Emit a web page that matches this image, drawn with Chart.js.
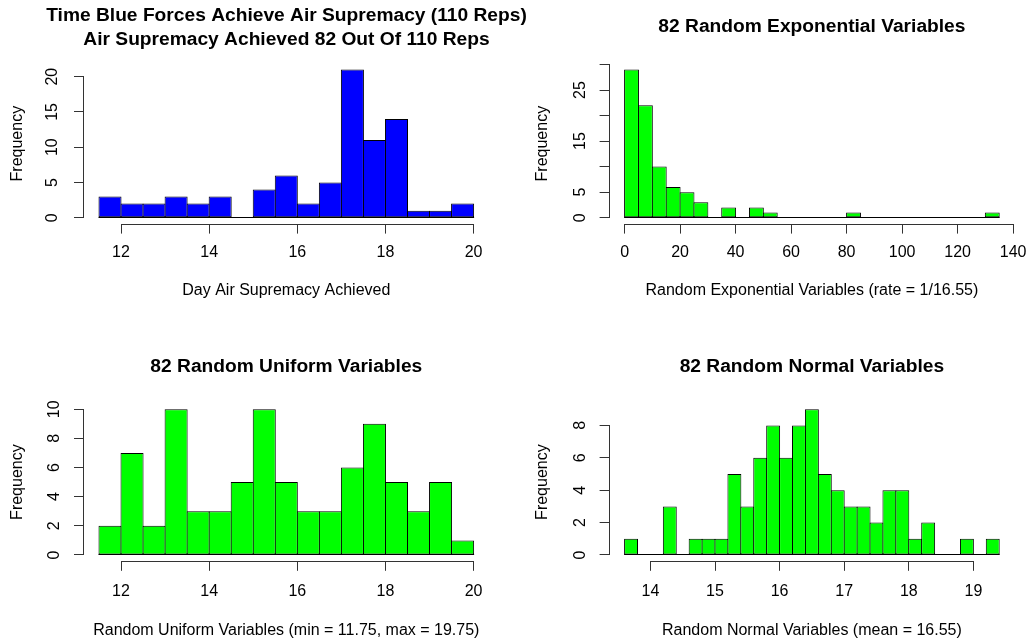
<!DOCTYPE html>
<html><head><meta charset="utf-8"><title>Histograms</title>
<script src="https://cdn.jsdelivr.net/npm/chart.js@4.4.1/dist/chart.umd.min.js"></script>
<style>
html,body{margin:0;padding:0;background:#fff}
body{position:relative;width:1026px;height:643px;overflow:hidden}
canvas{position:absolute}
</style></head><body>
<canvas id="c1" width="573" height="321" style="left:0;top:0"></canvas>
<canvas id="c2" width="513" height="321" style="left:513px;top:0"></canvas>
<canvas id="c3" width="513" height="322" style="left:0;top:321px"></canvas>
<canvas id="c4" width="513" height="322" style="left:513px;top:321px"></canvas>
<script>
// ---------------- DATA ----------------
const p1Title = ['Time Blue Forces Achieve Air Supremacy (110 Reps)', 'Air Supremacy Achieved 82 Out Of 110 Reps'];
const p1XLabel = 'Day Air Supremacy Achieved';
const p1Breaks = [11.5, 12, 12.5, 13, 13.5, 14, 14.5, 15, 15.5, 16, 16.5, 17, 17.5, 18, 18.5, 19, 19.5, 20];
const p1Counts = [3, 2, 2, 3, 2, 3, 0, 4, 6, 2, 5, 21, 11, 14, 1, 1, 2];
const p1XTicks = [12, 14, 16, 18, 20];
const p1YTicks = [0, 5, 10, 15, 20];
const p1YTickLabels = ['0', '5', '10', '15', '20'];

const p2Title = ['82 Random Exponential Variables'];
const p2XLabel = 'Random Exponential Variables (rate = 1/16.55)';
const p2Breaks = [0, 5, 10, 15, 20, 25, 30, 35, 40, 45, 50, 55, 60, 65, 70, 75, 80, 85, 90, 95, 100, 105, 110, 115, 120, 125, 130, 135];
const p2Counts = [29, 22, 10, 6, 5, 3, 0, 2, 0, 2, 1, 0, 0, 0, 0, 0, 1, 0, 0, 0, 0, 0, 0, 0, 0, 0, 1];
const p2XTicks = [0, 20, 40, 60, 80, 100, 120, 140];
const p2YTicks = [0, 5, 10, 15, 20, 25, 30];
const p2YTickLabels = ['0', '5', '', '15', '', '25', ''];

const p3Title = ['82 Random Uniform Variables'];
const p3XLabel = 'Random Uniform Variables (min = 11.75, max = 19.75)';
const p3Breaks = [11.5, 12, 12.5, 13, 13.5, 14, 14.5, 15, 15.5, 16, 16.5, 17, 17.5, 18, 18.5, 19, 19.5, 20];
const p3Counts = [2, 7, 2, 10, 3, 3, 5, 10, 5, 3, 3, 6, 9, 5, 3, 5, 1];
const p3XTicks = [12, 14, 16, 18, 20];
const p3YTicks = [0, 2, 4, 6, 8, 10];
const p3YTickLabels = ['0', '2', '4', '6', '8', '10'];

const p4Title = ['82 Random Normal Variables'];
const p4XLabel = 'Random Normal Variables (mean = 16.55)';
const p4Breaks = [13.6, 13.8, 14.0, 14.2, 14.4, 14.6, 14.8, 15.0, 15.2, 15.4, 15.6, 15.8, 16.0, 16.2, 16.4, 16.6, 16.8, 17.0, 17.2, 17.4, 17.6, 17.8, 18.0, 18.2, 18.4, 18.6, 18.8, 19.0, 19.2, 19.4];
const p4Counts = [1, 0, 0, 3, 0, 1, 1, 1, 5, 3, 6, 8, 6, 8, 9, 5, 4, 3, 3, 2, 4, 4, 1, 2, 0, 0, 1, 0, 1];
const p4XTicks = [14, 15, 16, 17, 18, 19];
const p4YTicks = [0, 2, 4, 6, 8];
const p4YTickLabels = ['0', '2', '4', '6', '8'];

const yAxisLabel = 'Frequency';

// ---------------- STYLE / LAYOUT ----------------
const FONT = '"Liberation Sans", Arial, Helvetica, sans-serif';
const TEXT = '#000000';
const AXIS = '#333333';
const TL = 10;            // tick length
const FS = 16;            // axis text size
const TFS = 19.2;         // title size
const TLH = 1.25;         // title line height

const panels = [
  { id: 'c1', title: p1Title, xLabel: p1XLabel, breaks: p1Breaks, counts: p1Counts, xTicks: p1XTicks, yTicks: p1YTicks, yTickLabels: p1YTickLabels, fill: '#0000FF', titleFull: true,
    box: { cx: 0, cy: 0, cw: 573, ch: 321, L: 84, R: 488.6, T: 63.7, B: 223.6, titleY: 15.5, xTickY: 252.8, xTitleY: 290.7, yTickX: 53, yTitleX: 17.3 } },
  { id: 'c2', title: p2Title, xLabel: p2XLabel, breaks: p2Breaks, counts: p2Counts, xTicks: p2XTicks, yTicks: p2YTicks, yTickLabels: p2YTickLabels, fill: '#00FF00', titleFull: false,
    box: { cx: 513, cy: 0, cw: 513, ch: 321, L: 609.6, R: 1014.2, T: 63.7, B: 223.6, titleY: 27, xTickY: 252.8, xTitleY: 290.7, yTickX: 580.3, yTitleX: 542.5 } },
  { id: 'c3', title: p3Title, xLabel: p3XLabel, breaks: p3Breaks, counts: p3Counts, xTicks: p3XTicks, yTicks: p3YTicks, yTickLabels: p3YTickLabels, fill: '#00FF00', titleFull: false,
    box: { cx: 0, cy: 321, cw: 513, ch: 322, L: 84, R: 488.6, T: 403.4, B: 560.8, titleY: 366.4, xTickY: 591.2, xTitleY: 630.7, yTickX: 54.5, yTitleX: 17.3 } },
  { id: 'c4', title: p4Title, xLabel: p4XLabel, breaks: p4Breaks, counts: p4Counts, xTicks: p4XTicks, yTicks: p4YTicks, yTickLabels: p4YTickLabels, fill: '#00FF00', titleFull: false,
    box: { cx: 513, cy: 321, cw: 513, ch: 322, L: 609.6, R: 1014.2, T: 403.4, B: 560.8, titleY: 366.4, xTickY: 591.2, xTitleY: 630.7, yTickX: 580.8, yTitleX: 542.5 } }
];

function alignPx(v) { return Math.round(v - 0.5) + 0.5; }

function makeChart(p) {
  const b = p.box;
  const canvas = document.getElementById(p.id);
  const mctx = canvas.getContext('2d');
  mctx.font = 'normal ' + FS + 'px ' + FONT;
  let widest = 0;
  p.yTickLabels.forEach(s => { widest = Math.max(widest, mctx.measureText(s).width); });

  const lhTick = FS * 1.2;
  const yAxisW = b.L - b.cx;
  const rightSpace = b.cw - (b.R - b.cx);
  // full-width title: reserve right space with an empty right-hand box so title centres over the plot
  const padRight = p.titleFull ? 0 : rightSpace;
  const xAxisH = b.ch - (b.B - b.cy);
  const nT = p.title.length;
  const tLH = TFS * TLH;
  const tPadTop = (b.titleY - b.cy) - tLH / 2;
  const tPadBottom = (b.T - b.cy) - tPadTop - nT * tLH;
  const xTickPad = (b.xTickY - b.B) - TL - lhTick / 2;
  const xTitlePadBottom = (b.cy + b.ch) - b.xTitleY - lhTick / 2;
  const yTitlePadTop = (b.yTitleX - b.cx) - lhTick / 2;
  const yTickPad = (b.L - b.yTickX) - TL - widest / 2;

  const lo = p.breaks[0], hi = p.breaks[p.breaks.length - 1];
  const ext = 0.04 * (hi - lo);
  const ymax = Math.max(...p.counts);
  const yext = 0.04 * ymax;
  const binPx = (p.breaks[1] - p.breaks[0]) * (b.R - b.L) / (hi - lo + 2 * ext);
  const barPct = (binPx + 1) / binPx;

  const rAxis = {
    id: 'rAxis',
    afterDraw(chart) {
      const { ctx, chartArea } = chart;
      const x = chart.scales.x, y = chart.scales.y;
      ctx.save();
      ctx.lineWidth = 1;
      // histogram baseline (zero-height bins)
      const y0 = Math.round(y.getPixelForValue(0)) - 0.5;
      ctx.strokeStyle = '#000';
      ctx.beginPath();
      ctx.moveTo(x.getPixelForValue(p.breaks[0]) - 0.5, y0);
      ctx.lineTo(x.getPixelForValue(p.breaks[p.breaks.length - 1]) + 0.5, y0);
      ctx.stroke();
      // R-style axis lines, first tick to last tick
      ctx.strokeStyle = AXIS;
      const xb = Math.round(chartArea.bottom) + 0.5;
      ctx.beginPath();
      ctx.moveTo(alignPx(x.getPixelForValue(x.ticks[0].value)) - 0.5, xb);
      ctx.lineTo(alignPx(x.getPixelForValue(x.ticks[x.ticks.length - 1].value)) + 0.5, xb);
      ctx.stroke();
      const yl = Math.round(chartArea.left) - 0.5;
      ctx.beginPath();
      ctx.moveTo(yl, alignPx(y.getPixelForValue(y.ticks[0].value)) + 0.5);
      ctx.lineTo(yl, alignPx(y.getPixelForValue(y.ticks[y.ticks.length - 1].value)) - 0.5);
      ctx.stroke();
      ctx.restore();
    }
  };

  const scales = {
    x: {
      type: 'linear', position: 'bottom', min: lo - ext, max: hi + ext, offset: false, bounds: 'data',
      afterBuildTicks: s => { s.ticks = p.xTicks.map(v => ({ value: v })); },
      afterFit: s => { s.height = xAxisH; s.paddingLeft = 0; s.paddingRight = 0; },
      grid: { display: true, offset: false, drawOnChartArea: false, drawTicks: true, tickLength: TL, color: AXIS, lineWidth: 1 },
      border: { display: false },
      ticks: { autoSkip: false, minRotation: 0, maxRotation: 0, padding: xTickPad, color: TEXT,
               font: { family: FONT, size: FS }, callback: v => String(v) },
      title: { display: true, text: p.xLabel, color: TEXT, font: { family: FONT, size: FS },
               padding: { top: 0, bottom: xTitlePadBottom } }
    },
    y: {
      type: 'linear', position: 'left', min: -yext, max: ymax + yext, bounds: 'data',
      afterBuildTicks: s => { s.ticks = p.yTicks.map(v => ({ value: v })); },
      afterFit: s => { s.width = yAxisW; s.paddingTop = 0; s.paddingBottom = 0; },
      grid: { display: true, offset: false, drawOnChartArea: false, drawTicks: true, tickLength: TL, color: AXIS, lineWidth: 1 },
      border: { display: false },
      ticks: { autoSkip: false, minRotation: 90, maxRotation: 90, crossAlign: 'center', padding: yTickPad, color: TEXT,
               font: { family: FONT, size: FS }, callback: (v, i) => p.yTickLabels[i] },
      title: { display: true, text: yAxisLabel, color: TEXT, font: { family: FONT, size: FS },
               padding: { top: yTitlePadTop, bottom: 0 } }
    }
  };
  if (p.titleFull) {
    scales.yRight = {
      type: 'linear', position: 'right', display: true, min: 0, max: 1,
      afterFit: s => { s.width = rightSpace; s.paddingTop = 0; s.paddingBottom = 0; },
      grid: { display: false, drawTicks: false }, border: { display: false },
      ticks: { display: false }, title: { display: false }
    };
  }

  return new Chart(canvas, {
    type: 'bar',
    data: {
      datasets: [{
        data: p.counts.map((c, i) => ({ x: (p.breaks[i] + p.breaks[i + 1]) / 2, y: c })),
        backgroundColor: p.fill,
        borderColor: '#000000',
        borderWidth: 1,
        borderSkipped: false,
        inflateAmount: 0,
        barPercentage: barPct,
        categoryPercentage: 1,
        xAxisID: 'x',
        yAxisID: 'y'
      }]
    },
    options: {
      responsive: false,
      animation: false,
      devicePixelRatio: 1,
      events: [],
      layout: { padding: { left: 0, right: padRight, top: 0, bottom: 0 } },
      plugins: {
        legend: { display: false },
        tooltip: { enabled: false },
        title: {
          display: true, text: p.title, position: 'top', align: 'center', fullSize: p.titleFull,
          color: TEXT, font: { family: FONT, size: TFS, weight: 'bold', lineHeight: TLH },
          padding: { top: tPadTop, bottom: tPadBottom }
        }
      },
      scales: scales
    },
    plugins: [rAxis]
  });
}

panels.forEach(makeChart);
</script>
</body></html>
